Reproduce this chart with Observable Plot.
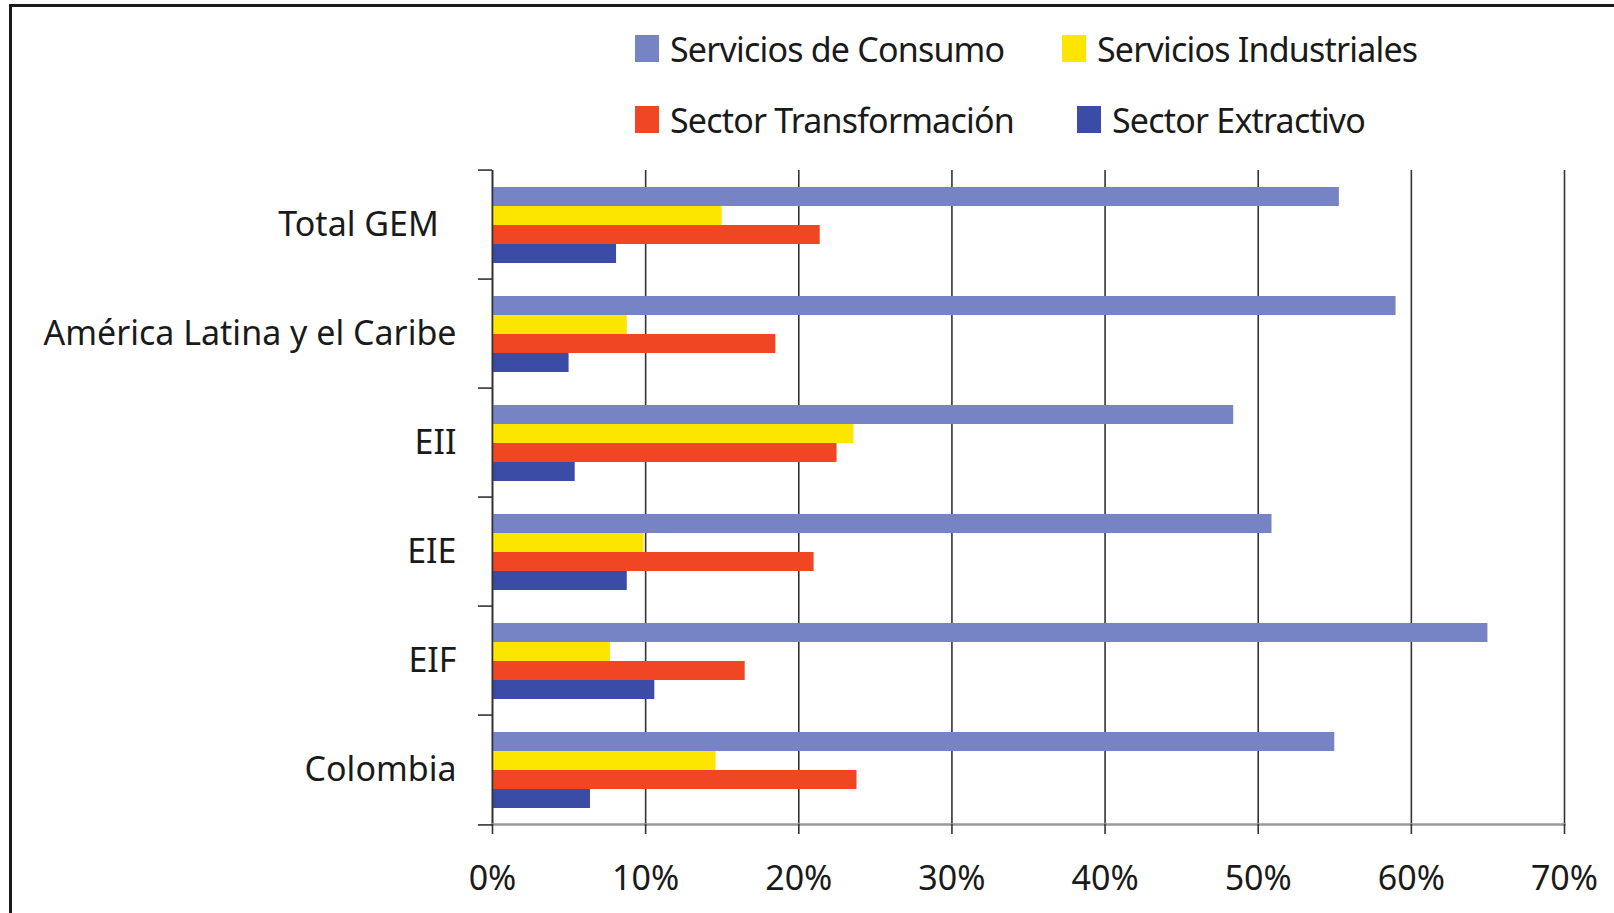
<!DOCTYPE html>
<html>
<head>
<meta charset="utf-8">
<script src="https://cdn.jsdelivr.net/npm/d3@7"></script>
<script src="https://cdn.jsdelivr.net/npm/@observablehq/plot@0.6"></script>
<style>
  html, body { margin: 0; padding: 0; background: #fff; }
  #wrap { position: relative; width: 1614px; height: 913px; overflow: hidden; font-family: "Noto Sans", sans-serif; color: #1a1a1a; }
  #border { position: absolute; left: 9px; top: 4px; right: -10px; bottom: -10px; border-top: 3px solid #1a1a1a; border-left: 3px solid #1a1a1a; pointer-events: none; }
  #chart { position: absolute; left: 0; top: 0; }
  .lg { position: absolute; display: flex; align-items: center; font-size: 34px; letter-spacing: -0.8px; white-space: pre; }
  .sw { display: inline-block; width: 24px; height: 27px; margin-right: 11px; }
</style>
</head>
<body>
<div id="wrap">
  <div id="chart"></div>
  <div id="legend"></div>
  <div id="border"></div>
</div>
<script>
const categories = ["Total GEM", "América Latina y el Caribe", "EII", "EIE", "EIF", "Colombia"];
const sectors = ["Servicios de Consumo", "Servicios Industriales", "Sector Transformación", "Sector Extractivo"];
const serviciosConsumo     = [55.3, 59.0, 48.4, 50.9, 65.0, 55.0];
const serviciosIndustriales = [15.0,  8.8, 23.6,  9.9,  7.7, 14.6];
const sectorTransformacion = [21.4, 18.5, 22.5, 21.0, 16.5, 23.8];
const sectorExtractivo     = [ 8.1,  5.0,  5.4,  8.8, 10.6,  6.4];
const xTicks = [0, 10, 20, 30, 40, 50, 60, 70];
const colors = ["#7683c4", "#fce600", "#f04624", "#3a4ca5"];

const series = [serviciosConsumo, serviciosIndustriales, sectorTransformacion, sectorExtractivo];
const data = categories.flatMap((c, i) => sectors.map((s, j) => ({category: c, sector: s, value: series[j][i]})));

const W = 1614, H = 913, mt = 167, mb = 87, ml = 492, mr = 50;
const step = (H - mt - mb) / categories.length;

const chart = Plot.plot({
  width: W, height: H,
  marginLeft: ml, marginRight: mr, marginTop: mt, marginBottom: mb,
  style: {fontFamily: "Noto Sans, sans-serif", color: "#1a1a1a", background: "transparent"},
  x: {domain: [0, 70]},
  fy: {domain: categories, padding: 0, label: null},
  y: {domain: sectors, paddingInner: 0, paddingOuter: 0.79, axis: null},
  color: {domain: sectors, range: colors},
  marks: [
    Plot.gridX(xTicks, {stroke: "#333", strokeOpacity: 1, strokeWidth: 1.6}),
    Plot.barX(data, {fy: "category", y: "sector", x: "value", fill: "sector"}),
    Plot.ruleX([0], {stroke: "#333", strokeWidth: 1.6}),
    Plot.frame({anchor: "bottom", facetAnchor: "bottom", stroke: "#999", strokeWidth: 2.5}),
    Plot.axisX({ticks: xTicks, tickSize: 10, tickPadding: 31, tickFormat: d => d + "%", fontSize: 34, stroke: "#333", strokeWidth: 1.6, label: null}),
    Plot.axisFy({anchor: "left", tickSize: 0, tickPadding: 36, fontSize: 34, label: null,
      tickFormat: d => d === "Total GEM" ? d + "\u00a0\u00a0" : d}),
    Plot.axisFy({anchor: "left", text: null, tickSize: 14, dy: -step / 2, stroke: "#333", strokeWidth: 1.6, label: null}),
    Plot.axisFy({anchor: "left", ticks: [categories[categories.length - 1]], text: null, tickSize: 14, dy: step / 2, stroke: "#333", strokeWidth: 1.6, label: null})
  ]
});
document.getElementById("chart").appendChild(chart);

// Legend (2 x 2)
const legendPos = [
  {left: 635, top: 35}, {left: 1062, top: 35},
  {left: 635, top: 106}, {left: 1077, top: 106}
];
const legend = document.getElementById("legend");
sectors.forEach((s, i) => {
  const item = document.createElement("div");
  item.className = "lg";
  item.style.left = legendPos[i].left + "px";
  item.style.top = (legendPos[i].top - 10) + "px";
  item.style.height = "47px";
  const sw = document.createElement("span");
  sw.className = "sw";
  sw.style.background = colors[i];
  item.appendChild(sw);
  item.appendChild(document.createTextNode(s));
  legend.appendChild(item);
});
</script>
</body>
</html>
